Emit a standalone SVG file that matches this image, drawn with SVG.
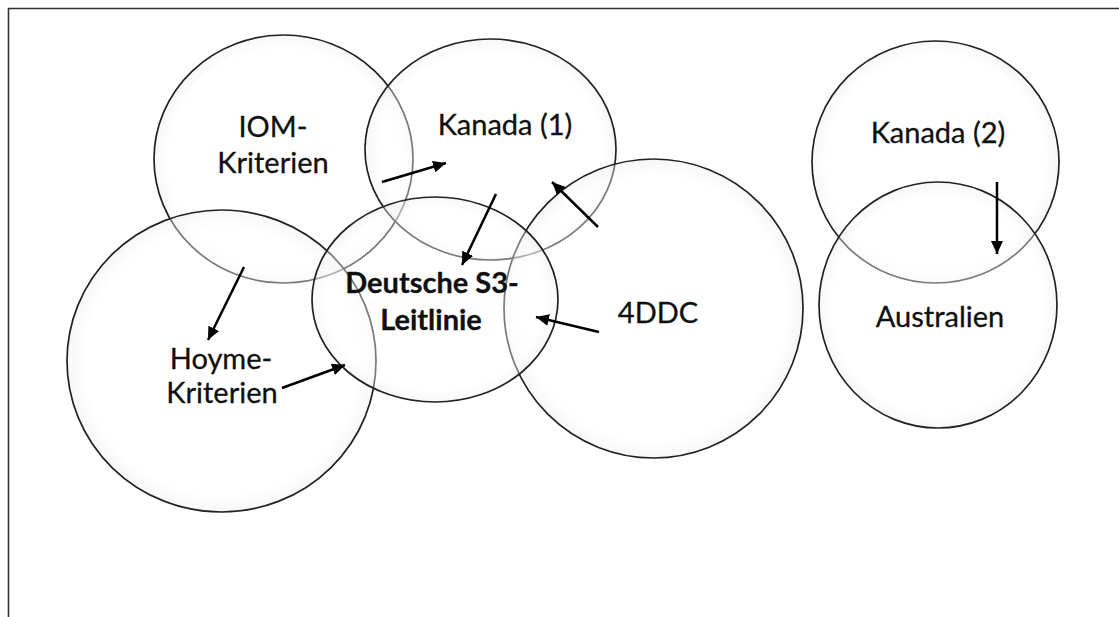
<svg xmlns="http://www.w3.org/2000/svg" width="1119" height="617" viewBox="0 0 1119 617">
<style>
.c{fill:url(#g);stroke:#222;stroke-width:1.7}
.t{font-family:Lato,"Open Sans","Liberation Sans",sans-serif;font-size:29px;fill:#101010;text-anchor:middle;stroke:#101010;stroke-width:0.3}
.b{font-weight:bold}
.a{stroke:#000;stroke-width:2.5;fill:none;marker-end:url(#ah)}
</style>
<defs>
<radialGradient id="g">
<stop offset="0.88" stop-color="#fff" stop-opacity="0.4"/>
<stop offset="1" stop-color="#ececec" stop-opacity="0.4"/>
</radialGradient>
<marker id="ah" markerUnits="userSpaceOnUse" markerWidth="14" markerHeight="12" refX="13" refY="6" orient="auto">
<path d="M0,0 L13,6 L0,12 z" fill="#000"/>
</marker>
</defs>
<rect width="1119" height="617" fill="#fff"/>
<path d="M8.5,617 V8.5 H1119" fill="none" stroke="#333" stroke-width="1.6"/>
<g id="iom"><ellipse class="c" cx="283.5" cy="159" rx="129.5" ry="124"/><text class="t" x="273" y="137">IOM-</text><text class="t" x="273" y="173">Kriterien</text></g>
<g id="hoyme"><ellipse class="c" cx="221.5" cy="361" rx="154.5" ry="151"/><text class="t" x="221" y="369">Hoyme-</text><text class="t" x="222" y="403">Kriterien</text></g>
<g id="kanada1"><ellipse class="c" cx="490.5" cy="149.5" rx="125.5" ry="110.5"/><text class="t" x="505" y="135">Kanada (1)</text></g>
<g id="ddc"><ellipse class="c" cx="653.5" cy="308.5" rx="149.5" ry="149.5"/><text class="t" x="658" y="323">4DDC</text></g>
<g id="s3"><ellipse class="c" cx="435" cy="299.5" rx="123" ry="102.5"/><text class="t b" x="432" y="293">Deutsche S3-</text><text class="t b" x="431" y="330">Leitlinie</text></g>
<g id="kanada2"><ellipse class="c" cx="935.5" cy="162" rx="123.5" ry="121"/><text class="t" x="938" y="143">Kanada (2)</text></g>
<g id="australien"><ellipse class="c" cx="938" cy="305" rx="119" ry="123"/><text class="t" x="940" y="327">Australien</text></g>
<g id="connectors">
<line class="a" x1="382" y1="182" x2="446" y2="163"/>
<line class="a" x1="496" y1="194" x2="462" y2="265"/>
<line class="a" x1="598" y1="227" x2="552" y2="182"/>
<line class="a" x1="599" y1="332" x2="536" y2="317"/>
<line class="a" x1="282" y1="388" x2="345" y2="365"/>
<line class="a" x1="244" y1="267" x2="208" y2="340"/>
<line class="a" x1="997" y1="182" x2="997" y2="254"/>
</g>
</svg>
